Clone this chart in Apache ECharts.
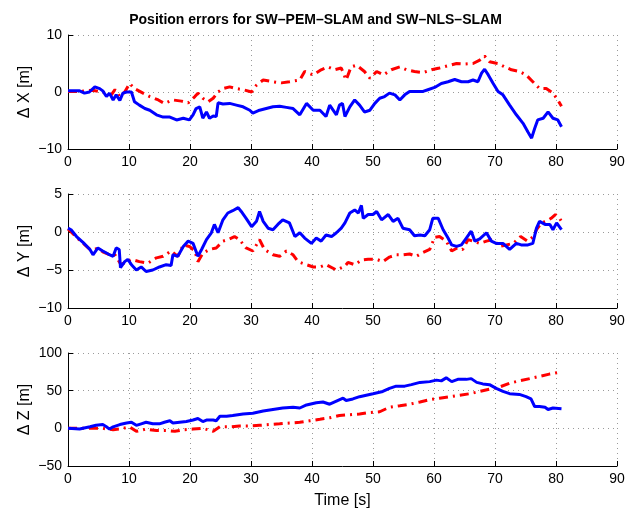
<!DOCTYPE html>
<html>
<head>
<meta charset="utf-8">
<script src="https://cdn.jsdelivr.net/npm/echarts@6/dist/echarts.min.js"></script>
<style>html,body{margin:0;padding:0;background:#fff;}#c{width:631px;height:510px;}</style>
</head>
<body>
<div id="c"></div>
<script>
// ---- data ----
var titleText = 'Position errors for SW\u2013PEM\u2013SLAM and SW\u2013NLS\u2013SLAM';
var xTicks = [0, 10, 20, 30, 40, 50, 60, 70, 80, 90];
var yNames = ['\u0394 X [m]', '\u0394 Y [m]', '\u0394 Z [m]'];
var yTicksX = [-10, 0, 10];
var yTicksY = [-10, -5, 0, 5];
var yTicksZ = [-50, 0, 50, 100];

// Delta X, blue (SW-PEM-SLAM) [time, value]
var dxBlue = [[0,0.2],[1.9,0.2],[2.7,-0.2],[3.5,0],[4.4,0.9],[5.2,0.6],[5.7,0.2],[6.3,-0.8],[6.8,-0.2],[7.4,-1.4],[7.9,-0.5],[8.5,-1.5],[9.0,-0.2],[9.6,0],[10.4,0],[10.9,-1.7],[11.7,-2.3],[12.6,-2.9],[13.4,-3.2],[14.5,-4],[15.6,-4.4],[16.7,-4.4],[17.8,-4.9],[18.9,-4.6],[19.9,-4.9],[20.5,-4],[21.0,-2.9],[21.6,-2.6],[22.1,-4.6],[22.7,-3.5],[23.2,-4.6],[23.8,-4.2],[24.3,-4.3],[24.6,-1.9],[25.4,-2.1],[26.5,-2],[27.6,-2.3],[28.7,-2.6],[29.8,-3.2],[30.3,-3.7],[31.4,-3.2],[32.5,-2.9],[33.6,-2.6],[34.7,-2.5],[35.8,-2.7],[36.9,-2.9],[38.0,-4],[39.1,-2],[40.2,-3.2],[41.3,-3.2],[42.3,-4.3],[42.9,-2.3],[44.0,-4],[44.5,-2.3],[45.0,-2],[45.4,-4.3],[46.2,-2.6],[47.0,-1.4],[47.8,-2.3],[48.6,-3.5],[49.5,-3.2],[50.3,-2],[51.1,-1.1],[51.9,-0.8],[52.7,-0.2],[53.6,-0.5],[54.4,-1.4],[55.2,-0.5],[56.0,0.1],[57.1,0.1],[58.2,0.1],[59.0,0.4],[60.1,0.8],[61.2,1.5],[62.3,1.8],[63.4,2.2],[64.5,1.8],[65.6,1.8],[66.4,2.1],[67.2,1.8],[67.8,3.3],[68.3,4.0],[68.9,3],[69.7,1.5],[70.5,0.1],[71.3,-0.5],[72.4,-2.3],[73.5,-4],[74.6,-5.5],[75.4,-7],[76.0,-8.1],[76.5,-6.4],[77.0,-4.9],[77.9,-4.6],[78.7,-3.5],[79.5,-4.6],[80.3,-4.9],[80.9,-6.1]];
// Delta X, red (SW-NLS-SLAM)
var dxRed = [[0,0.1],[2,0.1],[4,0.3],[5.7,0],[7.1,-0.5],[7.7,0.4],[8.5,-0.8],[9.3,0],[10.1,1.5],[10.9,0.6],[12.3,-0.2],[13.4,-0.8],[14.8,-1.4],[15.8,-2],[17.2,-1.4],[18.6,-1.6],[19.7,-1.9],[20.8,-0.8],[21.3,-0.2],[22.1,-1.1],[23.0,-1.7],[23.8,-1.1],[24.6,0],[25.4,0.6],[26.5,0.9],[27.6,0.6],[28.7,0.4],[30.1,0],[30.9,1.2],[32.0,2.1],[33.6,1.8],[35.0,1.6],[36.3,1.8],[38.0,2.1],[38.8,3.6],[40.2,3],[41.5,3.9],[42.6,4.4],[43.7,3.9],[44.8,4.2],[45.6,2.1],[46.4,4.4],[47.3,4.7],[48.6,3.6],[49.5,2.4],[50.6,3.6],[51.7,3],[53.0,3.9],[54.4,4.4],[55.5,3.9],[56.8,3.6],[58.2,3.4],[59.6,3.9],[60.9,4.2],[62.3,4.6],[63.7,5],[65.0,4.9],[66.4,5],[67.5,5.6],[68.3,6.3],[69.1,5.3],[70.5,5],[71.6,4.4],[72.7,3.9],[74.0,3.6],[75.1,3],[76.2,1.8],[77.3,0.6],[78.4,0.6],[79.5,-0.2],[80.3,-1.4],[80.9,-2.5]];

// Delta Y, blue
var dyBlue = [[0,0.5],[0.5,0.3],[1.4,-0.6],[2.5,-1.4],[3.6,-2.3],[4.1,-3],[4.9,-2.1],[5.7,-2.5],[6.6,-2.9],[7.4,-3.2],[7.9,-2.1],[8.4,-2.3],[8.6,-4.7],[9.3,-3.9],[9.8,-3.6],[10.4,-4.3],[11.2,-5],[12.0,-4.6],[12.8,-5.2],[13.9,-5],[15.0,-4.6],[16.1,-4.3],[16.9,-4.4],[17.2,-3],[18.0,-3.2],[18.9,-1.9],[19.7,-1.2],[20.5,-1.5],[21.3,-3.2],[21.9,-2.3],[22.7,-1],[23.5,-0.1],[24.0,1],[24.6,-0.1],[25.4,1.6],[26.2,2.5],[27.0,2.8],[27.9,3.2],[28.4,2.7],[29.2,1.8],[30.1,0.7],[30.9,1.4],[31.4,2.7],[32.0,1.4],[32.8,0.5],[33.6,0.3],[34.4,1],[35.2,1.6],[36.3,1.2],[37.2,-0.6],[38.0,-0.1],[38.8,-0.8],[39.9,-1.5],[40.7,-0.8],[41.5,-1.2],[42.3,-0.4],[43.2,-0.6],[44.0,-0.1],[44.8,0.5],[45.4,1.2],[46.2,2.5],[47.0,2.9],[47.6,2.5],[48.1,3.5],[48.4,1.8],[49.2,2.3],[50.0,2.3],[50.6,2.7],[51.4,1.6],[52.5,2.3],[53.3,1.4],[54.1,1.8],[54.9,0.5],[56.0,0.3],[56.8,-0.5],[57.7,-0.4],[58.5,-0.5],[59.3,0.3],[59.8,1.8],[60.7,1.8],[61.5,0.3],[62.3,-0.8],[62.9,-1.7],[63.7,-1.9],[64.5,-1.7],[65.3,-0.8],[66.1,0.1],[66.7,-1.2],[67.5,-0.9],[68.6,-0.1],[69.4,-1.2],[70.2,-1.5],[71.3,-1.5],[72.4,-2.3],[73.5,-1.5],[74.3,-1.7],[75.4,-1.7],[76.2,-1.5],[76.8,0.5],[77.3,1.4],[78.2,1],[79.0,1],[79.5,0.3],[80.1,1.2],[80.9,0.3]];
// Delta Y, red
var dyRed = [[0,0.4],[1.4,-0.7],[2.5,-1.5],[3.6,-2.3],[4.9,-2.2],[5.7,-2.6],[6.8,-3],[7.7,-3],[8.7,-4.3],[9.6,-3.9],[10.4,-3.6],[11.7,-3.9],[13.1,-4.1],[14.5,-3.4],[15.6,-3.2],[16.9,-2.5],[18.0,-3.2],[18.9,-1.7],[19.9,-1.9],[20.8,-2.5],[21.3,-3.9],[22.1,-2.8],[23.2,-2.3],[24.3,-2.1],[25.4,-1.2],[26.2,-1],[27.3,-0.6],[28.1,-1],[29.2,-2.1],[30.3,-2.5],[31.4,-1],[32.2,-2.3],[33.6,-3],[34.7,-3.2],[35.8,-2.5],[36.9,-3],[37.7,-3.9],[39.1,-4.3],[40.2,-4.6],[41.3,-4.6],[42.3,-4.3],[44.0,-5],[45.4,-4.5],[45.9,-4],[47.0,-4.3],[48.1,-3.7],[49.2,-3.6],[50.6,-3.6],[51.6,-3.9],[52.7,-3.3],[53.8,-3],[54.9,-3],[56.0,-2.9],[57.1,-3.2],[58.2,-2.7],[59.3,-2.3],[60.1,-0.7],[60.9,-0.6],[62.0,-1.2],[62.9,-2.5],[63.8,-2.1],[64.7,-2.3],[65.6,-1],[66.4,-1.2],[67.5,-1.5],[68.6,-1.2],[69.7,-1],[70.8,-1.9],[71.9,-1.7],[73.0,-1.5],[74.2,-0.6],[75.3,-1.2],[76.3,-0.6],[76.8,0.3],[77.6,1.2],[78.4,1.4],[79.2,1.8],[79.9,2.3],[80.6,1.8],[80.9,1.4]];

// Delta Z, blue
var dzBlue = [[0,0],[1.9,-1],[3.6,2],[4.6,4],[5.7,5],[6.3,2],[6.8,-1],[7.4,2],[8.5,5],[9.6,7],[10.4,8],[11.2,4],[12.0,6],[12.8,8],[13.9,6],[15.0,6],[15.8,8],[16.7,10],[17.2,7],[18.3,8],[19.4,9],[20.5,11],[21.3,13],[22.1,9],[22.7,11],[23.8,11],[24.3,10],[24.9,16],[26.0,16],[27.0,17],[28.7,19],[30.3,20],[32.0,23],[33.6,25],[35.2,27],[36.9,28],[38.0,27],[39.1,31],[40.7,34],[41.8,35],[42.9,32],[44.0,36],[45.1,40],[45.6,37],[46.7,39],[47.8,42],[48.9,44],[50.0,46],[51.6,49],[52.7,53],[53.8,56],[55.2,56],[56.3,58],[57.7,61],[59.3,62],[60.4,64],[61.2,63],[62.0,67],[62.9,62],[63.9,65],[65.3,65],[66.1,66],[67.0,61],[68.0,59],[69.1,58],[70.2,53],[71.3,49],[72.4,46],[74.0,45],[75.1,42],[75.9,39],[76.5,29],[77.3,29],[78.2,28],[78.7,25],[79.5,27],[80.9,26]];
// Delta Z, red
var dzRed = [[0,0],[3,0],[5.7,0],[7.4,-2],[9.0,0],[10.1,2],[11.2,-4],[12.8,-1],[14.5,-3],[16.1,-3],[17.5,-4],[18.9,-2],[20.5,-1],[22.1,0],[23.8,-4],[24.9,2],[26.5,2],[28.1,3],[29.8,3],[31.4,4],[33.0,5],[34.7,6],[36.3,7],[38.0,8],[39.6,10],[41.3,12],[42.9,14],[44.5,17],[46.2,18],[47.8,19],[49.4,21],[51.1,22],[52.7,28],[54.4,30],[56.0,32],[57.7,35],[59.3,38],[60.9,40],[62.6,42],[64.2,44],[65.9,46],[67.5,49],[69.1,52],[70.8,55],[72.4,60],[74.0,63],[75.7,66],[77.3,69],[78.9,72],[80.9,75]];

// ---- chart ----
var FONT = 'Liberation Sans';
var gridTops = [35, 194, 353];
var PLOT_H = 114;
var yRanges = [[-10, 10, 10], [-10, 5, 5], [-50, 100, 50]];

function minusFmt(v) { return String(v).replace('-', '\u2212'); }

var grids = [], xAxes = [], yAxes = [], series = [];
for (var i = 0; i < 3; i++) {
  grids.push({ left: 68, right: 14, top: gridTops[i], height: PLOT_H, containLabel: false });
  xAxes.push({
    type: 'value', gridIndex: i, min: 0, max: 90, interval: 10,
    axisLine: { show: true, onZero: false, lineStyle: { color: '#000', width: 1 } },
    axisTick: { show: true, inside: true, length: 5, lineStyle: { color: '#000' } },
    axisLabel: { color: '#000', fontFamily: FONT, fontSize: 14, margin: 6, formatter: minusFmt },
    splitLine: { show: true, lineStyle: { type: [1, 4], color: '#9a9a9a', width: 1 } },
    name: i === 2 ? 'Time [s]' : '', nameLocation: 'middle', nameGap: 27, nameMoveOverlap: false,
    nameTextStyle: { color: '#000', fontFamily: FONT, fontSize: 16 }
  });
  yAxes.push({
    type: 'value', gridIndex: i, min: yRanges[i][0], max: yRanges[i][1], interval: yRanges[i][2],
    axisLine: { show: true, onZero: false, lineStyle: { color: '#000', width: 1 } },
    axisTick: { show: true, inside: true, length: 5, lineStyle: { color: '#000' } },
    axisLabel: { color: '#000', fontFamily: FONT, fontSize: 14, margin: 6, formatter: minusFmt },
    splitLine: { show: true, lineStyle: { type: [1, 4], color: '#9a9a9a', width: 1 } },
    name: yNames[i], nameLocation: 'middle', nameRotate: 90, nameGap: 35, nameMoveOverlap: false,
    nameTextStyle: { color: '#000', fontFamily: FONT, fontSize: 16 }
  });
}

var reds = [dxRed, dyRed, dzRed];
var blues = [dxBlue, dyBlue, dzBlue];
for (var j = 0; j < 3; j++) {
  series.push({
    type: 'line', xAxisIndex: j, yAxisIndex: j, data: reds[j], showSymbol: false, silent: true,
    animation: false, lineStyle: { color: '#ff0000', width: 3, type: [9, 5, 2, 5] }, z: 2
  });
  series.push({
    type: 'line', xAxisIndex: j, yAxisIndex: j, data: blues[j], showSymbol: false, silent: true,
    animation: false, lineStyle: { color: '#0000ff', width: 3 }, z: 3
  });
}

var chart = echarts.init(document.getElementById('c'), null, { renderer: 'canvas' });
chart.setOption({
  backgroundColor: '#fff',
  animation: false,
  title: { text: titleText, left: 'center', top: 8,
    textStyle: { fontFamily: FONT, fontSize: 14, fontWeight: 'bold', color: '#000' } },
  grid: grids, xAxis: xAxes, yAxis: yAxes, series: series
});
</script>
</body>
</html>
